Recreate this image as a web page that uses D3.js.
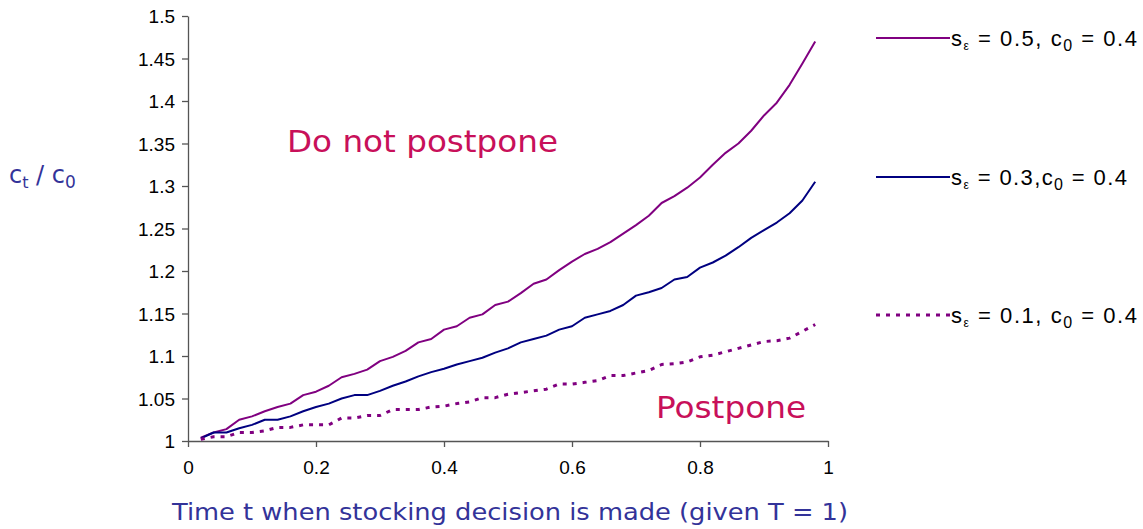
<!DOCTYPE html>
<html>
<head>
<meta charset="utf-8">
<script src="https://cdn.jsdelivr.net/npm/d3@7"></script>
<style>
  html, body { margin: 0; padding: 0; background: #fff; }
  svg { display: block; font-family: "DejaVu Sans", Verdana, sans-serif; }
</style>
</head>
<body>
<svg id="chart" width="1143" height="529"></svg>
<script>
// Decision time t (fraction of horizon T = 1)
const times = d3.range(1, 50).map(i => +(i * 0.02).toFixed(2));

// Threshold ratio c_t / c_0 for each volatility level
const highVol = [1.004,1.010,1.014,1.025,1.029,1.035,1.040,1.044,1.054,1.058,
  1.065,1.075,1.079,1.084,1.094,1.099,1.106,1.116,1.120,1.131,
  1.135,1.145,1.149,1.160,1.164,1.174,1.185,1.190,1.201,1.211,
  1.220,1.226,1.234,1.244,1.254,1.265,1.280,1.288,1.298,1.310,
  1.325,1.339,1.350,1.365,1.383,1.398,1.419,1.444,1.470];
const midVol = [1.003,1.010,1.010,1.015,1.019,1.025,1.025,1.029,1.035,1.040,
  1.044,1.050,1.054,1.054,1.059,1.065,1.070,1.076,1.081,1.085,
  1.090,1.094,1.098,1.104,1.109,1.116,1.120,1.124,1.131,1.135,
  1.145,1.149,1.153,1.160,1.171,1.175,1.180,1.190,1.193,1.204,
  1.210,1.218,1.228,1.239,1.248,1.257,1.268,1.283,1.305];
const lowVol = [1.002,1.005,1.005,1.010,1.010,1.012,1.016,1.016,1.019,1.019,
  1.019,1.027,1.027,1.030,1.030,1.037,1.037,1.037,1.040,1.041,
  1.044,1.046,1.051,1.051,1.055,1.057,1.059,1.061,1.067,1.067,
  1.069,1.071,1.077,1.077,1.080,1.083,1.090,1.091,1.093,1.099,
  1.101,1.105,1.109,1.113,1.117,1.118,1.121,1.129,1.137];

const xTicks = [0, 0.2, 0.4, 0.6, 0.8, 1];
const yTicks = [1, 1.05, 1.1, 1.15, 1.2, 1.25, 1.3, 1.35, 1.4, 1.45, 1.5];

const seriesList = [
  { values: highVol, sigma: "0.5", sep: ", ", color: "#800080", dash: null, width: 2, labelWidth: 186 },
  { values: midVol,  sigma: "0.3", sep: ",",  color: "#000080", dash: null, width: 2, labelWidth: 176 },
  { values: lowVol,  sigma: "0.1", sep: ", ", color: "#800080", dash: "4,6", width: 3, labelWidth: 186 }
];

const svg = d3.select("#chart");
const x = d3.scaleLinear().domain([0, 1]).range([188, 828]);
const y = d3.scaleLinear().domain([1, 1.5]).range([441, 16]);
const axisColor = "#555";
const tickFont = "'Liberation Sans', Arial, sans-serif";

// Axes
const xAxis = svg.append("g").attr("transform", `translate(0,${y(1)})`)
  .call(d3.axisBottom(x).tickValues(xTicks).tickFormat(d3.format("")).tickSize(6).tickSizeOuter(0));
const yAxis = svg.append("g").attr("transform", `translate(${x(0)},0)`)
  .call(d3.axisLeft(y).tickValues(yTicks).tickFormat(d3.format("")).tickSize(6).tickSizeOuter(0));
[xAxis, yAxis].forEach(g => {
  g.select(".domain").attr("stroke", axisColor).attr("stroke-width", 1.3);
  g.selectAll(".tick line").attr("stroke", axisColor).attr("stroke-width", 1.3);
  g.selectAll(".tick text").attr("fill", "#000").style("font-size", "19px")
    .style("font-family", tickFont);
});
xAxis.selectAll(".tick text").attr("y", 14).attr("dy", "1.0em");
yAxis.selectAll(".tick text").attr("x", -13).attr("dy", "0.35em");

// Lines
const line = d3.line().x((d, i) => x(times[i])).y(d => y(d));
seriesList.forEach(s => {
  svg.append("path").datum(s.values)
    .attr("d", line)
    .attr("fill", "none")
    .attr("stroke", s.color)
    .attr("stroke-width", s.width)
    .attr("stroke-dasharray", s.dash)
    .attr("stroke-linejoin", "round");
});

// Region labels
const regionColor = "#c8105a";
svg.append("text").attr("x", 287).attr("y", 152).attr("fill", regionColor)
  .style("font-size", "31px").attr("textLength", 271).attr("lengthAdjust", "spacingAndGlyphs")
  .text("Do not postpone");
svg.append("text").attr("x", 656).attr("y", 418).attr("fill", regionColor)
  .style("font-size", "31px").attr("textLength", 150).attr("lengthAdjust", "spacingAndGlyphs")
  .text("Postpone");

// Axis titles
const titleColor = "#333399";
svg.append("text").attr("x", 172).attr("y", 520)
  .attr("fill", titleColor).style("font-size", "23px")
  .attr("textLength", 676).attr("lengthAdjust", "spacingAndGlyphs")
  .text("Time t when stocking decision is made (given T = 1)");
const yt = svg.append("text").attr("x", 9).attr("y", 183).attr("fill", titleColor).style("font-size", "24px");
yt.append("tspan").text("c");
yt.append("tspan").attr("dy", 5).style("font-size", "16px").text("t");
yt.append("tspan").attr("dy", -5).text(" / c");
yt.append("tspan").attr("dy", 5).style("font-size", "17px").text("0");

// Legend
const legendY = [38, 177, 315];
seriesList.forEach((s, i) => {
  const ly = legendY[i];
  svg.append("line").attr("x1", 876).attr("x2", 950).attr("y1", ly).attr("y2", ly)
    .attr("stroke", s.color).attr("stroke-width", s.width).attr("stroke-dasharray", s.dash);
  const t = svg.append("text").attr("x", 951).attr("y", ly + 8).attr("fill", "#000")
    .style("font-size", "22px").style("font-family", tickFont)
    .attr("textLength", s.labelWidth).attr("lengthAdjust", "spacing");
  t.append("tspan").text("s");
  t.append("tspan").attr("dy", 4).style("font-size", "12px").text("ε");
  t.append("tspan").attr("dy", -4).text(` = ${s.sigma}${s.sep}c`);
  t.append("tspan").attr("dy", 5).style("font-size", "16px").text("0");
  t.append("tspan").attr("dy", -5).text(" = 0.4");
});
</script>
</body>
</html>
